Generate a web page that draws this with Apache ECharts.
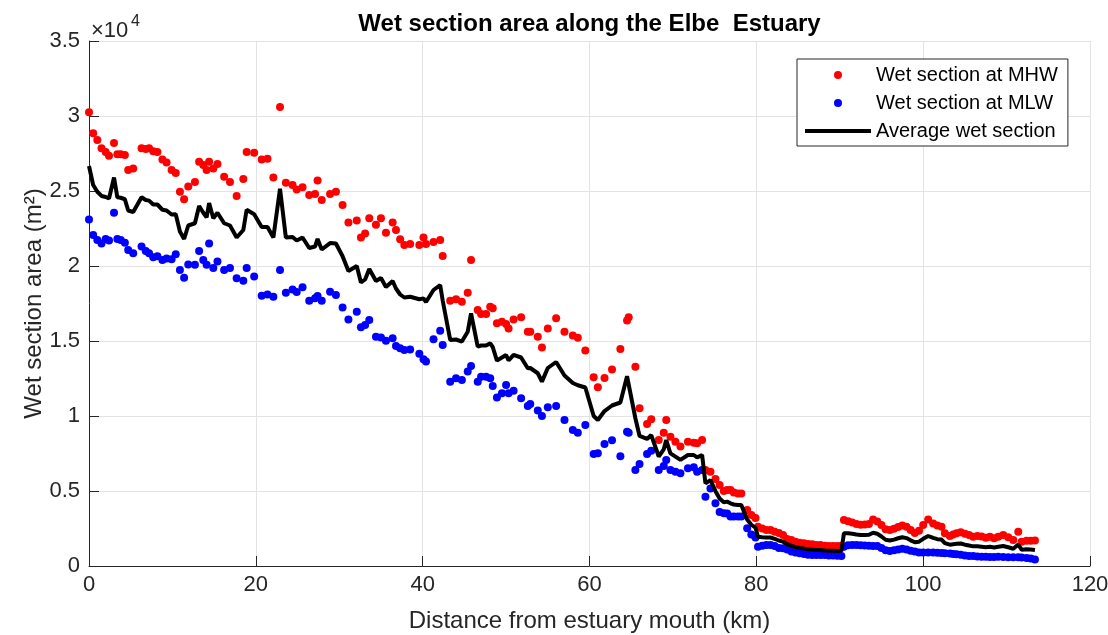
<!DOCTYPE html>
<html lang="en">
<head>
  <meta charset="UTF-8">
  <title>Wet section area along the Elbe Estuary</title>
  <script src="https://cdn.jsdelivr.net/npm/echarts@6/dist/echarts.min.js"></script>
  <style>
    html, body { margin: 0; padding: 0; background: #fff; }
  </style>
</head>
<body>
<div id="chart" style="width: 1108px; height: 635px;"></div>

<script>
  // distance from the estuary mouth (km), shared by all three series
  var distanceKm = [
    0.0, 0.5, 1.0, 1.5, 2.0, 2.4, 3.0, 3.4, 3.8, 4.3,
    4.7, 5.3, 6.3, 6.8, 7.2, 7.7, 8.2, 8.8, 9.3, 9.9,
    10.4, 10.9, 11.4, 11.9, 12.7, 13.2, 13.7, 14.1, 14.4, 14.9,
    15.4, 16.2, 16.9, 17.7, 18.5, 18.9, 19.8, 20.7, 21.4, 22.1,
    22.9, 23.6, 24.4, 24.9, 25.6, 26.4, 27.1, 27.4, 27.9, 28.9,
    29.6, 30.4, 31.1, 32.1, 32.6, 33.1, 33.6, 34.4, 35.0, 35.6,
    36.4, 36.8, 37.3, 37.8, 38.5, 39.6, 40.1, 40.4, 41.3, 42.1,
    42.4, 43.3, 44.0, 44.7, 45.4, 45.8, 46.6, 47.0, 47.6, 48.1,
    48.4, 48.9, 49.5, 50.0, 50.3, 50.9, 51.8, 52.6, 52.9, 53.8,
    54.3, 55.0, 56.0, 57.0, 58.0, 58.6, 59.5, 60.5, 61.0, 61.8,
    62.7, 63.7, 64.5, 64.7, 65.5, 66.0, 66.9, 67.4, 68.3, 68.9,
    69.2, 69.7, 70.3, 70.9, 71.8, 72.5, 72.9, 73.5, 73.9, 74.5,
    75.1, 75.6, 76.1, 76.5, 76.9, 77.3, 77.8, 78.2, 78.9, 79.4,
    79.9, 80.2, 80.7, 81.2, 81.7, 82.2, 82.7, 83.2, 83.7, 84.2,
    84.7, 85.2, 85.7, 86.2, 86.7, 87.2, 87.7, 88.2, 88.7, 89.2,
    89.7, 90.2, 90.5, 91.0, 91.5, 92.0, 92.5, 93.0, 93.5, 94.0,
    94.5, 95.0, 95.5, 96.0, 96.5, 97.0, 97.5, 98.0, 98.5, 99.0,
    99.5, 100.0, 100.6, 101.2, 101.7, 102.2, 102.6, 103.2, 103.6, 104.0,
    104.5, 105.0, 105.5, 106.0, 106.5, 107.0, 107.5, 108.0, 108.5, 109.0,
    109.6, 110.2, 110.8, 111.4, 111.8, 112.4, 112.9, 113.4
  ];

  // wet section at mean high water (m2)
  var areaMHW = [
    30250, 28850, 28400, 27850, 27600, 27350, 28200, 27450, 27450, 27400,
    26400, 26500, 27850, 27800, 27850, 27650, 27600, 27100, 26900, 26400,
    26200, 24950, 24450, 25300, 25600, 26950, 26730, 26400, 26950, 26500,
    26800, 25950, 25600, 24670, 25800, 27600, 27550, 27100, 27150, 25900,
    30600, 25550, 25400, 25100, 25250, 24730, 24800, 25700, 24400, 24800,
    24950, 24070, 22900, 23030, 21900, 22170, 23180, 22750, 23180, 22220,
    22900, 22400, 21780, 21400, 21470, 21400, 21900, 21470, 21600, 21730,
    20670, 17690, 17780, 17620, 18220, 20400, 17070, 16800, 16800, 17290,
    17180, 16180, 16290, 16130, 15840, 16440, 16580, 15620, 15620, 15290,
    14560, 15840, 16510, 15620, 15360, 15220, 14360, 12580, 11910, 12530,
    13100, 14470, 16360, 16580, 13290, 10510, 9470, 9780, 8400, 8890,
    9730, 8620, 8290, 7960, 8290, 8220, 8180, 8400, 6400, 6290,
    5800, 5400, 5000, 5070, 5070, 4900, 4840, 4840, 3730, 3400,
    3200, 2620, 2500, 2400, 2400, 2290, 2200, 2070, 1800, 1730,
    1620, 1550, 1510, 1470, 1450, 1400, 1400, 1350, 1330, 1330,
    1330, 1350, 3070, 2980, 2900, 2800, 2750, 2760, 2800, 3100,
    2960, 2730, 2450, 2400, 2480, 2600, 2700, 2620, 2400, 2200,
    2350, 2730, 3100, 2840, 2700, 2620, 2180, 2000, 2100, 2180,
    2250, 2150, 2070, 1950, 2000, 1960, 1880, 1950, 1850, 1950,
    2070, 1910, 1730, 2290, 1620, 1690, 1690, 1700
  ];

  // wet section at mean low water (m2)
  var areaMLW = [
    23100, 22070, 21730, 21500, 21800, 21700, 23550, 21800, 21730, 21550,
    21070, 20850, 21300, 21000, 20850, 20580, 20650, 20400, 20500, 20450,
    20780, 19730, 19220, 20100, 20080, 21000, 20400, 20080, 21500, 19870,
    20300, 19730, 19870, 19180, 19020, 19870, 19300, 18020, 18100, 17950,
    19730, 18220, 18440, 18270, 18580, 17690, 17850, 18000, 17690, 18290,
    18070, 17240, 16440, 16950, 15910, 16070, 16400, 15290, 15240, 15020,
    15180, 14670, 14510, 14400, 14440, 14150, 13780, 13640, 15110, 15690,
    14730, 12290, 12510, 12400, 12960, 13330, 12290, 12620, 12620, 12510,
    12000, 11240, 11510, 12070, 11510, 11690, 11180, 10670, 10800, 10360,
    10000, 10580, 10670, 9730, 9070, 8890, 9400, 7470, 7510, 8130,
    8380, 7310, 8950, 8890, 6400, 6800, 7470, 7690, 6400, 6670,
    7070, 6400, 6290, 6180, 6510, 6580, 6290, 6400, 4620, 5170,
    4180, 3600, 3510, 3500, 3300, 3300, 3300, 3300, 2510, 2100,
    1900, 1290, 1350, 1400, 1400, 1330, 1200, 1180, 1100, 960,
    900, 850, 800, 750, 730, 730, 730, 730, 700, 700,
    680, 670, 1290, 1380, 1400, 1400, 1380, 1360, 1350, 1330,
    1330, 1200, 1050, 1000, 1050, 1100, 1150, 1100, 1020, 960,
    900, 900, 900, 900, 880, 870, 850, 840, 800, 780,
    750, 700, 670, 660, 640, 620, 610, 600, 600, 610,
    600, 590, 580, 580, 560, 530, 500, 440
  ];

  // average wet section (m2)
  var areaMean = [
    26670, 25400, 24950, 24670, 24600, 24500, 25900, 24580, 24550, 24450,
    23700, 23600, 24580, 24400, 24360, 24100, 24100, 23750, 23700, 23430,
    23450, 22300, 21800, 22700, 22850, 24000, 23550, 23240, 24200, 23180,
    23550, 22850, 22700, 21900, 22400, 23750, 23450, 22600, 22600, 21900,
    25150, 21900, 21930, 21700, 21900, 21200, 21300, 21800, 21100, 21530,
    21500, 20650, 19670, 20000, 18900, 19100, 19800, 19000, 19200, 18600,
    19000, 18500, 18100, 17900, 17950, 17780, 17840, 17600, 18400, 18730,
    17700, 15070, 15100, 14960, 15620, 16840, 14620, 14700, 14700, 14840,
    14600, 13690, 13900, 14070, 13700, 14070, 13900, 13180, 13200, 12850,
    12290, 13200, 13600, 12700, 12200, 12050, 11900, 10000, 9730, 10330,
    10700, 10900, 12650, 12740, 9850, 8670, 8470, 8730, 7300, 7780,
    8400, 7510, 7290, 7070, 7400, 7400, 7240, 7400, 5510, 5730,
    4990, 4500, 4250, 4290, 4180, 4100, 4070, 4070, 3100, 2750,
    2550, 1950, 1920, 1900, 1900, 1810, 1700, 1620, 1450, 1350,
    1260, 1200, 1160, 1110, 1090, 1070, 1070, 1040, 1020, 1020,
    1000, 1010, 2180, 2180, 2150, 2100, 2070, 2060, 2080, 2220,
    2150, 1970, 1750, 1700, 1760, 1850, 1920, 1860, 1710, 1580,
    1620, 1810, 2000, 1870, 1790, 1760, 1520, 1420, 1450, 1480,
    1500, 1420, 1370, 1310, 1320, 1290, 1250, 1280, 1230, 1280,
    1330, 1250, 1150, 1430, 1090, 1110, 1100, 1070
  ];

  var seriesNames = ['Wet section at MHW', 'Wet section at MLW', 'Average wet section'];

  function pairs(values) {
    return distanceKm.map(function (d, i) { return [d, values[i]]; });
  }

  var font = 'Liberation Sans, Arial, Helvetica, sans-serif';
  var axisColor = '#262626';

  var myChart = echarts.init(document.getElementById('chart'), null, { renderer: 'canvas' });

  var option = {
    animation: false,
    backgroundColor: '#ffffff',
    textStyle: { fontFamily: font },
    grid: { left: 89, right: 18, top: 41, bottom: 69, containLabel: false, outerBoundsMode: 'none' },
    graphic: [
      {
        type: 'text', x: 589.5, y: 24,
        style: {
          text: 'Wet section area along the Elbe  Estuary',
          font: 'bold 24px ' + font, fill: '#000', align: 'center', verticalAlign: 'middle'
        }
      },
      {
        type: 'text', x: 91, y: 31,
        style: { text: '\u00d710', font: '22px ' + font, fill: axisColor, align: 'left', verticalAlign: 'middle' }
      },
      {
        type: 'text', x: 131, y: 22,
        style: { text: '4', font: '16px ' + font, fill: axisColor, align: 'left', verticalAlign: 'middle' }
      }
    ],
    legend: {
      orient: 'vertical',
      left: 797,
      top: 59,
      data: [
        { name: seriesNames[0], icon: 'circle' },
        { name: seriesNames[1], icon: 'circle' },
        { name: seriesNames[2], icon: 'path://M0,0 L66,0 L66,4 L0,4 Z' }
      ],
      itemWidth: 66,
      itemHeight: 8,
      itemGap: 8,
      padding: [6, 10, 5, 8],
      borderColor: axisColor,
      borderWidth: 1,
      borderRadius: 0,
      backgroundColor: '#ffffff',
      textStyle: { fontSize: 20, color: '#000', fontFamily: font },
      selectedMode: false
    },
    xAxis: {
      type: 'value',
      min: 0,
      max: 120,
      interval: 20,
      name: 'Distance from estuary mouth (km)',
      nameLocation: 'middle',
      nameGap: 43,
      nameMoveOverlap: false,
      nameTextStyle: { fontSize: 24, color: axisColor, fontFamily: font },
      axisLine: { onZero: false, lineStyle: { color: axisColor, width: 1 } },
      axisTick: { inside: true, length: 10, lineStyle: { color: axisColor } },
      axisLabel: { fontSize: 22, color: axisColor, margin: 8, fontFamily: font },
      splitLine: { show: true, lineStyle: { color: '#e3e3e3', width: 1 } }
    },
    yAxis: {
      type: 'value',
      min: 0,
      max: 35000,
      interval: 5000,
      name: 'Wet section area (m\u00b2)',
      nameLocation: 'middle',
      nameGap: 43,
      nameMoveOverlap: false,
      nameTextStyle: { fontSize: 24, color: axisColor, fontFamily: font },
      axisLine: { show: true, lineStyle: { color: axisColor, width: 1 } },
      axisTick: { show: true, inside: true, length: 10, lineStyle: { color: axisColor } },
      axisLabel: {
        fontSize: 22, color: axisColor, margin: 9, fontFamily: font,
        formatter: function (v) { return String(v / 10000); }
      },
      splitLine: { show: true, lineStyle: { color: '#e3e3e3', width: 1 } }
    },
    series: [
      {
        name: seriesNames[0],
        type: 'scatter',
        data: pairs(areaMHW),
        symbol: 'circle',
        symbolSize: 8,
        itemStyle: { color: '#ff0000', opacity: 1 }
      },
      {
        name: seriesNames[1],
        type: 'scatter',
        data: pairs(areaMLW),
        symbol: 'circle',
        symbolSize: 8,
        itemStyle: { color: '#0000ff', opacity: 1 }
      },
      {
        name: seriesNames[2],
        type: 'line',
        data: pairs(areaMean),
        showSymbol: false,
        symbol: 'none',
        lineStyle: { color: '#000000', width: 4 },
        itemStyle: { color: '#000000' }
      }
    ]
  };

  myChart.setOption(option);
</script>
</body>
</html>
